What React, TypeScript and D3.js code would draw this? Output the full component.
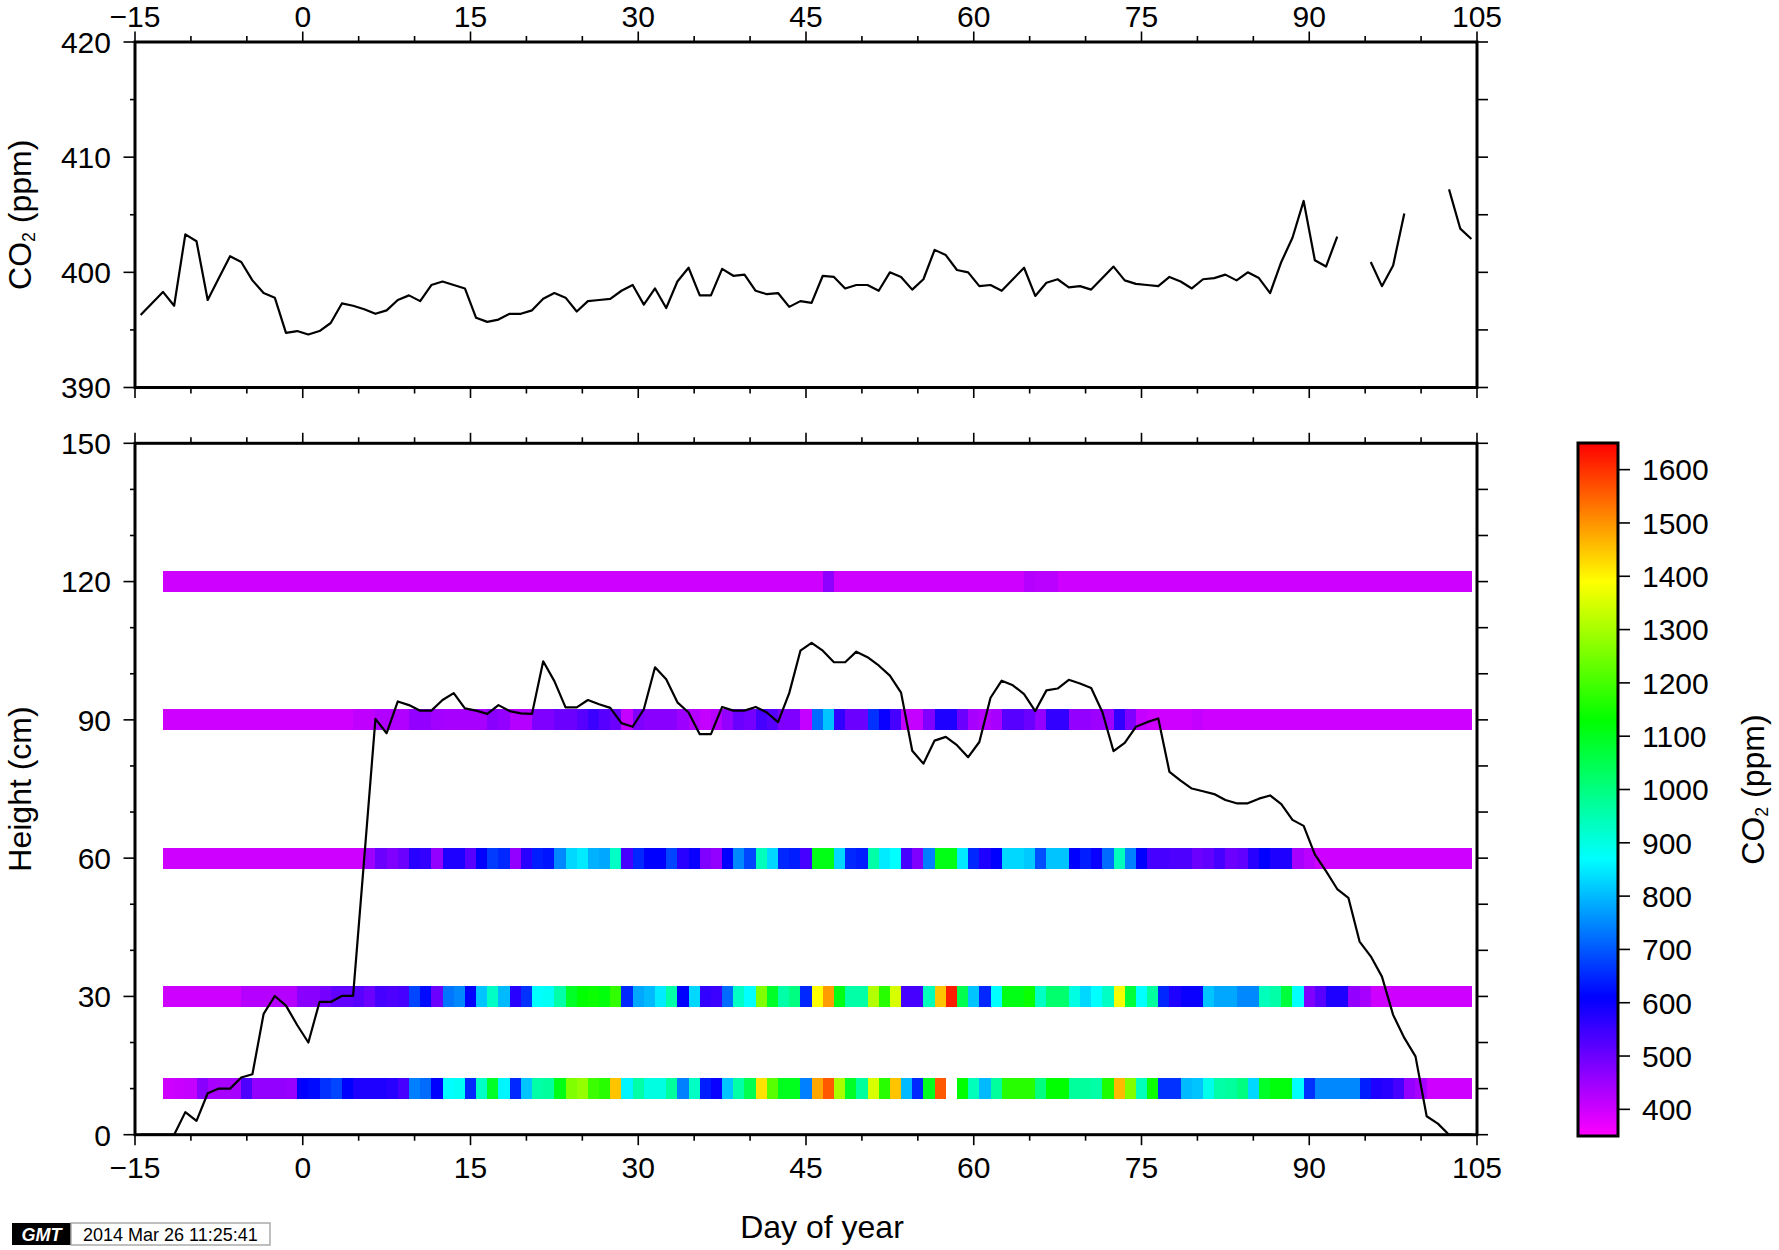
import React from "react";
import * as d3 from "d3";

// ---------------- data ----------------
const X_LABEL_TICKS = [-15, 0, 15, 30, 45, 60, 75, 90, 105];
const CO2_LABEL_TICKS = [390, 400, 410, 420];
const HEIGHT_LABEL_TICKS = [0, 30, 60, 90, 120, 150];
const CBAR_LABEL_TICKS = [400, 500, 600, 700, 800, 900, 1000, 1100, 1200, 1300, 1400, 1500, 1600];
const RAINBOW_STOPS = [350, 610, 870, 1130, 1390, 1650];
const RAINBOW_COLORS = ["#ff00ff", "#0000ff", "#00ffff", "#00ff00", "#ffff00", "#ff0000"];

// daily line series, first sample at day -14.5
const LINE_FIRST_DAY = -14.5;
const CO2_TOP: (number | null)[] = [
  396.3, 397.3, 398.3, 397.1, 403.3, 402.7, 397.6, 399.5, 401.4, 400.9,
  399.3, 398.2, 397.8, 394.75, 394.9, 394.6, 394.9, 395.6, 397.3, 397.1,
  396.8, 396.4, 396.7, 397.6, 398.0, 397.5, 398.9, 399.2, 398.9, 398.6,
  396.05, 395.7, 395.9, 396.4, 396.4, 396.7, 397.7, 398.2, 397.8, 396.6,
  397.5, 397.6, 397.7, 398.4, 398.9, 397.2, 398.6, 396.9, 399.2, 400.4,
  398.0, 398.0, 400.3, 399.7, 399.8, 398.4, 398.1, 398.2, 397.0, 397.5,
  397.35, 399.7, 399.6, 398.6, 398.9, 398.9, 398.4, 400.0, 399.6, 398.5,
  399.4, 401.95, 401.5, 400.2, 400.0, 398.8, 398.9, 398.4, 399.4, 400.4,
  397.95, 399.1, 399.4, 398.7, 398.8, 398.5, 399.5, 400.5, 399.3, 399.0,
  398.9, 398.8, 399.6, 399.2, 398.6, 399.4, 399.5, 399.8, 399.3, 400.0,
  399.5, 398.2, 400.9, 403.0, 406.2, 401.05, 400.5, 403.1, null, null,
  400.9, 398.8, 400.6, 405.1, null, null, null, 407.2, 403.8, 402.9,
];

const CANOPY_HEIGHT: number[] = [
  0, 0, 0, 0, 4.9, 3.0, 9.0, 10.0, 10.0, 12.4,
  13.1, 26.2, 30.1, 28.0, 23.8, 20.0, 28.8, 28.8, 30.1, 30.1,
  60, 90.2, 87.1, 94.0, 93.2, 92.0, 92.0, 94.3, 95.8, 92.5,
  92.0, 91.3, 93.2, 91.9, 91.4, 91.3, 102.7, 98.4, 92.7, 92.7,
  94.3, 93.4, 92.6, 89.3, 88.5, 92.3, 101.4, 98.8, 93.8, 91.6,
  86.9, 86.9, 92.8, 92.0, 92.0, 92.8, 91.6, 89.5, 95.8, 105.0,
  106.7, 105.0, 102.5, 102.5, 104.8, 103.6, 101.8, 99.6, 95.9, 83.3,
  80.5, 85.5, 86.3, 84.5, 81.9, 85.2, 94.8, 98.5, 97.5, 95.6,
  91.9, 96.4, 96.8, 98.7, 97.9, 96.9, 91.7, 83.2, 85.0, 88.5,
  89.5, 90.3, 78.7, 76.8, 75.1, 74.5, 73.9, 72.6, 71.9, 71.9,
  72.9, 73.6, 71.7, 68.3, 67.0, 60.8, 57.2, 53.3, 51.4, 41.9,
  38.7, 34.3, 26.0, 21.0, 17.0, 4.0, 2.4, 0, 0, 0,
];

// profile CO2 (ppm), one cell per day, first cell at day -12
const CELL_FIRST_DAY = -12;
const ROW_HEIGHTS = [120, 90, 60, 30, 10];
const ROW_120: (number | null)[] = [
  400, 400, 400, 400, 400, 400, 400, 400, 400, 400,
  400, 400, 400, 400, 400, 400, 400, 400, 400, 400,
  400, 400, 400, 400, 400, 400, 400, 400, 400, 400,
  400, 400, 400, 400, 400, 400, 400, 400, 400, 400,
  400, 400, 400, 400, 400, 400, 400, 400, 400, 400,
  400, 400, 400, 400, 400, 400, 400, 400, 400, 465,
  400, 400, 400, 400, 400, 400, 400, 400, 400, 400,
  400, 400, 400, 400, 400, 400, 400, 425, 420, 420,
  400, 400, 400, 400, 400, 400, 400, 400, 400, 400,
  400, 400, 400, 400, 400, 400, 400, 400, 400, 400,
  400, 400, 400, 400, 400, 400, 400, 400, 400, 400,
  400, 400, 400, 400, 400, 400, 400,
];
const ROW_90: (number | null)[] = [
  400, 400, 400, 400, 400, 400, 400, 400, 400, 400,
  400, 400, 400, 400, 400, 400, 400, 415, 415, 430,
  430, 430, 460, 460, 445, 440, 440, 440, 440, 470,
  460, 425, 425, 480, 480, 500, 500, 520, 550, 520,
  500, 410, 480, 470, 470, 470, 450, 425, 410, 425,
  460, 500, 490, 540, 520, 480, 480, 410, 720, 810,
  560, 500, 500, 660, 600, 540, 410, 410, 480, 580,
  580, 500, 440, 425, 440, 520, 520, 500, 460, 560,
  560, 460, 460, 450, 450, 560, 480, 410, 400, 400,
  400, 400, 410, 400, 400, 400, 400, 400, 400, 400,
  400, 400, 400, 400, 400, 400, 400, 400, 400, 400,
  400, 400, 400, 400, 400, 400, 400,
];
const ROW_60: (number | null)[] = [
  400, 400, 400, 400, 400, 400, 400, 400, 400, 400,
  400, 400, 400, 400, 400, 400, 400, 400, 450, 500,
  480, 500, 570, 560, 460, 580, 580, 520, 610, 670,
  650, 460, 570, 640, 630, 750, 830, 850, 790, 780,
  930, 540, 650, 610, 610, 680, 570, 600, 480, 460,
  610, 750, 680, 940, 830, 650, 640, 540, 1110, 1110,
  830, 650, 640, 960, 850, 870, 540, 480, 740, 1110,
  1110, 850, 650, 580, 610, 830, 830, 815, 690, 810,
  810, 610, 640, 600, 720, 940, 740, 610, 540, 540,
  530, 530, 500, 510, 540, 500, 510, 570, 610, 580,
  580, 440, 420, 400, 400, 400, 400, 400, 400, 400,
  400, 400, 400, 400, 400, 400, 400,
];
const ROW_30: (number | null)[] = [
  400, 400, 400, 400, 400, 400, 400, 425, 425, 425,
  425, 425, 470, 470, 490, 510, 510, 520, 500, 540,
  530, 540, 680, 620, 500, 730, 750, 610, 810, 930,
  800, 570, 660, 870, 880, 960, 1090, 1130, 1140, 1120,
  1180, 650, 780, 800, 850, 960, 610, 830, 560, 550,
  720, 930, 870, 1260, 1090, 960, 1000, 650, 1390, 1490,
  1110, 960, 960, 1310, 1170, 1350, 540, 540, 940, 1450,
  1620, 1050, 810, 650, 870, 1110, 1110, 1140, 930, 1020,
  1020, 900, 830, 870, 930, 1380, 1070, 870, 970, 650,
  580, 600, 600, 810, 780, 780, 750, 750, 940, 960,
  1070, 870, 480, 520, 580, 580, 460, 440, 400, 400,
  400, 400, 400, 400, 400, 400, 400,
];
const ROW_10: (number | null)[] = [
  400, 405, 410, 470, 440, 440, 440, 530, 460, 460,
  460, 455, 610, 620, 660, 680, 610, 580, 580, 580,
  570, 540, 740, 720, 610, 870, 880, 650, 930, 1090,
  860, 650, 810, 960, 970, 1110, 1260, 1280, 1190, 1170,
  1450, 860, 960, 900, 900, 970, 740, 930, 640, 600,
  810, 960, 1050, 1420, 1220, 1100, 1100, 740, 1480, 1560,
  1300, 1090, 970, 1350, 1170, 1450, 800, 650, 1100, 1560,
  null, 1130, 940, 800, 970, 1170, 1170, 1170, 1000, 1130,
  1130, 970, 970, 960, 1160, 1460, 1260, 940, 1140, 660,
  660, 800, 810, 890, 960, 970, 1000, 830, 1090, 1120,
  1120, 870, 660, 750, 750, 750, 750, 640, 580, 570,
  540, 460, 440, 400, 400, 400, 400,
];
const ROWS = [ROW_120, ROW_90, ROW_60, ROW_30, ROW_10];

// ---------------- layout ----------------
const W = 1779;
const H = 1250;
const PL = 135;
const PR = 1477;
const TOP_T = 42;
const TOP_B = 387.5;
const BOT_T = 443.3;
const BOT_B = 1134.7;
const CB_L = 1578;
const CB_R = 1618;
const CB_T = 443;
const CB_B = 1136;
const FONT = "'Liberation Sans', Arial, Helvetica, sans-serif";
const TICK_FS = 30;
const LABEL_FS = 32;
const BAR_HALF = 2.3; // cm

export default function App() {
  const x = d3.scaleLinear().domain([-15, 105]).range([PL, PR]);
  const yTop = d3.scaleLinear().domain([390, 420]).range([TOP_B, TOP_T]);
  const yBot = d3.scaleLinear().domain([0, 150]).range([BOT_B, BOT_T]);
  const color = d3
    .scaleLinear<string>()
    .domain(RAINBOW_STOPS)
    .range(RAINBOW_COLORS)
    .interpolate(d3.interpolateRgb)
    .clamp(true);
  const cbY = d3.scaleLinear().domain([350, 1650]).range([CB_B, CB_T]);

  const topPts = CO2_TOP.map((v, i) => [LINE_FIRST_DAY + i, v] as [number, number | null]);
  const topLine = d3
    .line<[number, number | null]>()
    .defined((d) => d[1] != null)
    .x((d) => x(d[0]))
    .y((d) => yTop(d[1] as number));
  const hPts = CANOPY_HEIGHT.map((v, i) => [LINE_FIRST_DAY + i, v] as [number, number]);
  const hLine = d3
    .line<[number, number]>()
    .x((d) => x(d[0]))
    .y((d) => yBot(d[1]));

  const xMinor = d3.range(-15, 106, 5);
  const co2Minor = d3.range(390, 421, 5);
  const hMinor = d3.range(0, 151, 10);

  const tickStroke = { stroke: "#000", strokeWidth: 1.6 };

  const xTicks = (yEdge: number, dir: number) =>
    xMinor.map((d) => {
      const major = X_LABEL_TICKS.includes(d);
      const len = major ? 10.5 : 6;
      return (
        <line key={`xt${yEdge}-${d}`} x1={x(d)} x2={x(d)} y1={yEdge} y2={yEdge + dir * len} {...tickStroke} />
      );
    });

  const co2Sub = (fs: number) => (
    <>
      CO
      <tspan fontSize={fs * 0.55} dy={fs * 0.12}>2</tspan>
      <tspan dy={-fs * 0.12}> (ppm)</tspan>
    </>
  );

  return (
    <div style={{ position: "absolute", left: 0, top: 0 }}>
      <svg width={W} height={H} viewBox={`0 0 ${W} ${H}`} style={{ display: "block", background: "#fff" }} fontFamily={FONT}>
        <defs>
          <linearGradient id="rainbow" x1="0" y1="1" x2="0" y2="0">
            {RAINBOW_STOPS.map((s, i) => (
              <stop key={s} offset={(s - 350) / 1300} stopColor={RAINBOW_COLORS[i]} />
            ))}
          </linearGradient>
        </defs>
        <rect x={0} y={0} width={W} height={H} fill="#fff" />

        {/* ===== top panel ===== */}
        <path d={topLine(topPts) || ""} fill="none" stroke="#000" strokeWidth={2.2} strokeLinejoin="round" />
        {xTicks(TOP_T, -1)}
        {xTicks(TOP_B, 1)}
        {co2Minor.map((v) => {
          const major = CO2_LABEL_TICKS.includes(v);
          return (
            <g key={`ct${v}`}>
              <line x1={PL} x2={PL - (major ? 11.5 : 5)} y1={yTop(v)} y2={yTop(v)} {...tickStroke} />
              <line x1={PR} x2={PR + 11} y1={yTop(v)} y2={yTop(v)} {...tickStroke} />
            </g>
          );
        })}
        <rect x={PL} y={TOP_T} width={PR - PL} height={TOP_B - TOP_T} fill="none" stroke="#000" strokeWidth={3} />
        {X_LABEL_TICKS.map((d) => (
          <text key={`xl-top${d}`} x={x(d)} y={27} textAnchor="middle" fontSize={TICK_FS}>
            {d < 0 ? `\u2212${Math.abs(d)}` : d}
          </text>
        ))}
        {CO2_LABEL_TICKS.map((v) => (
          <text key={`cl${v}`} x={111} y={yTop(v) + TICK_FS * 0.36} textAnchor="end" fontSize={TICK_FS}>
            {v}
          </text>
        ))}
        <text transform={`translate(31,${(TOP_T + TOP_B) / 2}) rotate(-90)`} textAnchor="middle" fontSize={LABEL_FS}>
          {co2Sub(LABEL_FS)}
        </text>

        {/* ===== bottom panel ===== */}
        {ROWS.map((row, ri) =>
          row.map((v, ci) => {
            if (v == null) return null;
            const d = CELL_FIRST_DAY + ci;
            const h = ROW_HEIGHTS[ri];
            return (
              <rect
                key={`c${ri}-${ci}`}
                x={x(d - 0.5)}
                y={yBot(h + BAR_HALF)}
                width={x(d + 0.5) - x(d - 0.5) + 0.6}
                height={yBot(h - BAR_HALF) - yBot(h + BAR_HALF)}
                fill={color(v)}
                shapeRendering="crispEdges"
              />
            );
          })
        )}
        <path d={hLine(hPts) || ""} fill="none" stroke="#000" strokeWidth={2.2} strokeLinejoin="round" />
        {xTicks(BOT_T, -1)}
        {xTicks(BOT_B, 1)}
        {hMinor.map((v) => {
          const major = HEIGHT_LABEL_TICKS.includes(v);
          return (
            <g key={`ht${v}`}>
              <line x1={PL} x2={PL - (major ? 11.5 : 5)} y1={yBot(v)} y2={yBot(v)} {...tickStroke} />
              <line x1={PR} x2={PR + 11} y1={yBot(v)} y2={yBot(v)} {...tickStroke} />
            </g>
          );
        })}
        <rect x={PL} y={BOT_T} width={PR - PL} height={BOT_B - BOT_T} fill="none" stroke="#000" strokeWidth={3} />
        {X_LABEL_TICKS.map((d) => (
          <text key={`xl-bot${d}`} x={x(d)} y={1178} textAnchor="middle" fontSize={TICK_FS}>
            {d < 0 ? `\u2212${Math.abs(d)}` : d}
          </text>
        ))}
        {HEIGHT_LABEL_TICKS.map((v) => (
          <text key={`hl${v}`} x={111} y={yBot(v) + TICK_FS * 0.36} textAnchor="end" fontSize={TICK_FS}>
            {v}
          </text>
        ))}
        <text transform={`translate(31,${(BOT_T + BOT_B) / 2}) rotate(-90)`} textAnchor="middle" fontSize={LABEL_FS}>
          Height (cm)
        </text>
        <text x={822} y={1238} textAnchor="middle" fontSize={LABEL_FS}>
          Day of year
        </text>

        {/* ===== colour bar ===== */}
        <rect x={CB_L} y={CB_T} width={CB_R - CB_L} height={CB_B - CB_T} fill="url(#rainbow)" stroke="#000" strokeWidth={3} />
        {CBAR_LABEL_TICKS.map((v) => (
          <g key={`cb${v}`}>
            <line x1={CB_R} x2={CB_R + 12} y1={cbY(v)} y2={cbY(v)} {...tickStroke} />
            <text x={1642} y={cbY(v) + TICK_FS * 0.36} fontSize={TICK_FS}>
              {v}
            </text>
          </g>
        ))}
        <text transform={`translate(1764,${(CB_T + CB_B) / 2}) rotate(-90)`} textAnchor="middle" fontSize={LABEL_FS}>
          {co2Sub(LABEL_FS)}
        </text>

        {/* ===== GMT time stamp ===== */}
        <rect x={12} y={1223} width={59} height={22} fill="#000" />
        <text x={41.5} y={1241} textAnchor="middle" fontSize={18} fontWeight="bold" fontStyle="italic" fill="#fff">
          GMT
        </text>
        <rect x={71} y={1223} width={199} height={22} fill="#fff" stroke="#aaa" strokeWidth={1.5} />
        <text x={83} y={1241} fontSize={18}>
          2014 Mar 26 11:25:41
        </text>
      </svg>
    </div>
  );
}
